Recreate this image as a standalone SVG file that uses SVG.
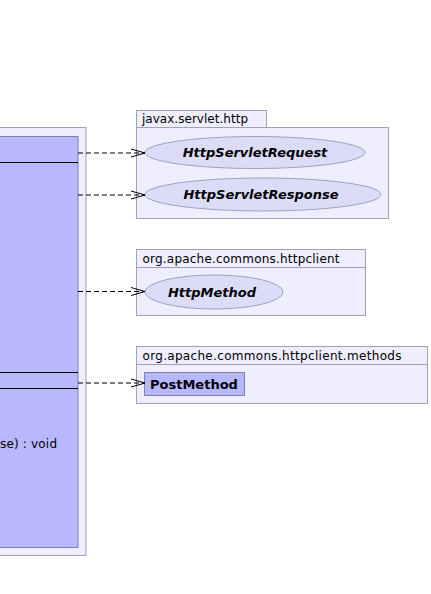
<svg xmlns="http://www.w3.org/2000/svg" width="431" height="594" viewBox="0 0 431 594">
<defs>
<style>
.pkg{fill:#eeeeff;stroke:#a0a0b8;stroke-width:1}
.cls{fill:#b8b8ff;stroke:#8080a8;stroke-width:1}
.ell{fill:#dcdcf8;stroke:#a0a0c0;stroke-width:1}
.t{font-family:"DejaVu Sans",sans-serif;font-size:12px;fill:#000}
.bi{font-family:"DejaVu Sans",sans-serif;font-size:13px;font-weight:bold;font-style:italic;fill:#000}
.b{font-family:"DejaVu Sans",sans-serif;font-size:13px;font-weight:bold;fill:#000}
.dep{stroke:#000;stroke-width:1;stroke-dasharray:5,3;fill:none}
.sep{stroke:#000;stroke-width:1}
</style>
<marker id="open" viewBox="0 0 16 10" refX="15" refY="5" markerWidth="16" markerHeight="10" markerUnits="userSpaceOnUse" orient="auto">
<path d="M1,1 L15,5 L1,9" fill="none" stroke="#000" stroke-width="1"/>
</marker>
</defs>
<g id="pkg-left">
<rect class="pkg" x="-10" y="127.5" width="96" height="428"/>
</g>
<g id="class-main">
<rect class="cls" x="-10" y="136.5" width="88" height="411"/>
<line class="sep" x1="-10" y1="162.5" x2="78" y2="162.5"/>
<line class="sep" x1="-10" y1="372.5" x2="78" y2="372.5"/>
<line class="sep" x1="-10" y1="388.5" x2="78" y2="388.5"/>
<text class="t" x="0" y="448" textLength="57">se) : void</text>
</g>
<g id="pkg-javax-servlet-http">
<rect class="pkg" x="136.5" y="110.5" width="130" height="17"/>
<rect class="pkg" x="136.5" y="127.5" width="252" height="91"/>
<text class="t" x="142" y="123" textLength="106">javax.servlet.http</text>
</g>
<g id="HttpServletRequest">
<ellipse class="ell" cx="255" cy="152.5" rx="110" ry="16"/>
<text class="bi" x="255" y="157" text-anchor="middle">HttpServletRequest</text>
</g>
<g id="HttpServletResponse">
<ellipse class="ell" cx="263" cy="194.5" rx="118" ry="16.5"/>
<text class="bi" x="261" y="199" text-anchor="middle">HttpServletResponse</text>
</g>
<g id="pkg-httpclient">
<rect class="pkg" x="136.5" y="249.5" width="229" height="18"/>
<rect class="pkg" x="136.5" y="267.5" width="229" height="48"/>
<text class="t" x="142.5" y="263" textLength="197">org.apache.commons.httpclient</text>
</g>
<g id="HttpMethod">
<ellipse class="ell" cx="214" cy="292" rx="69" ry="17"/>
<text class="bi" x="212" y="296.5" text-anchor="middle">HttpMethod</text>
</g>
<g id="pkg-httpclient-methods">
<rect class="pkg" x="136.5" y="346.5" width="291" height="18"/>
<rect class="pkg" x="136.5" y="364.5" width="291" height="39"/>
<text class="t" x="142.5" y="360" textLength="259">org.apache.commons.httpclient.methods</text>
</g>
<g id="PostMethod">
<rect class="cls" x="144.5" y="372.5" width="100" height="23"/>
<text class="b" x="150" y="388.5">PostMethod</text>
</g>
<g id="connectors">
<line class="dep" x1="78" y1="153" x2="145" y2="153" marker-end="url(#open)"/>
<line class="dep" x1="78" y1="195" x2="145" y2="195" marker-end="url(#open)"/>
<line class="dep" x1="78" y1="291.5" x2="145" y2="291.5" marker-end="url(#open)"/>
<line class="dep" x1="78" y1="383" x2="145" y2="383" marker-end="url(#open)"/>
</g>
</svg>
